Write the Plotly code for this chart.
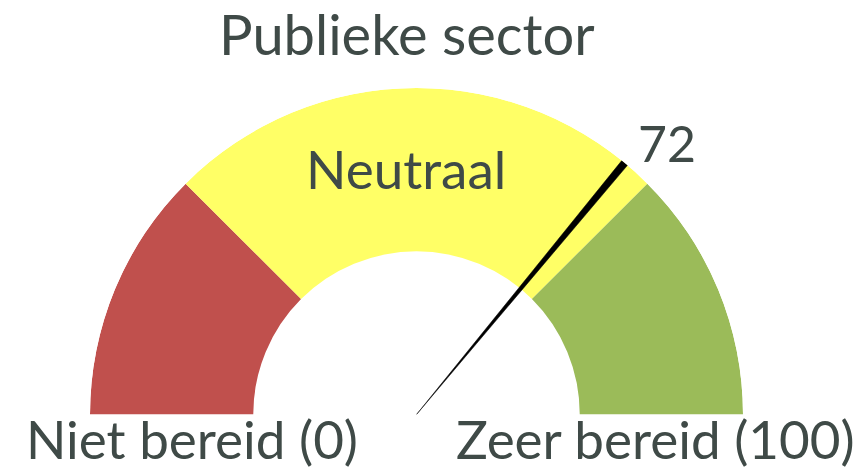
import plotly.graph_objects as go

# Gauge bands (score scale 0..100) and the reading shown by the needle
band_names = ["Niet bereid", "Neutraal", "Zeer bereid"]
band_start = [0, 25, 75]
band_end = [25, 75, 100]
band_colors = ["#C0504D", "#FFFF66", "#9BBB59"]
score = 72

title_text = "Publieke sector"
left_label = "Niet bereid (0)"
right_label = "Zeer bereid (100)"
middle_label = "Neutraal"

DEG_PER_POINT = 180 / 100  # half circle spans the full 0..100 scale
TEXT = "#3F4A47"
FONT = "Lato, Open Sans, sans-serif"

fig = go.Figure()

# coloured ring: bars from r=0.5 to r=1 in the polar subplot
fig.add_trace(go.Barpolar(
    r=[0.5] * len(band_start),
    base=[0.5] * len(band_start),
    theta=[(s + e) / 2 * DEG_PER_POINT for s, e in zip(band_start, band_end)],
    width=[(e - s) * DEG_PER_POINT for s, e in zip(band_start, band_end)],
    marker=dict(color=band_colors, line=dict(width=0)),
    hoverinfo="skip",
    showlegend=False,
))

# tapered needle: a thin wedge from the centre to the outer rim
needle_theta = score * DEG_PER_POINT
half_w = 0.65
fig.add_trace(go.Scatterpolar(
    r=[0, 1, 1, 0],
    theta=[needle_theta, needle_theta - half_w, needle_theta + half_w, needle_theta],
    mode="lines",
    fill="toself",
    fillcolor="black",
    line=dict(color="black", width=0.5),
    hoverinfo="skip",
    showlegend=False,
))

fig.update_layout(
    width=864,
    height=473,
    margin=dict(l=0, r=0, t=0, b=0),
    paper_bgcolor="white",
    plot_bgcolor="white",
    polar=dict(
        domain=dict(x=[90 / 864, 743 / 864], y=[58.5 / 473, 385 / 473]),
        sector=[0, 180],
        bgcolor="rgba(0,0,0,0)",
        radialaxis=dict(range=[0, 1], visible=False, showgrid=False),
        angularaxis=dict(
            rotation=180,
            direction="clockwise",
            visible=False,
            showgrid=False,
        ),
    ),
    font=dict(family=FONT, color=TEXT),
)

def label(text, x, y, size):
    fig.add_annotation(
        text=text, x=x / 864, y=1 - y / 473, xref="paper", yref="paper",
        xanchor="center", yanchor="middle", showarrow=False,
        font=dict(size=size, color=TEXT, family=FONT),
    )

label(title_text, 407, 33, 56)
label(middle_label, 406, 168, 53)
label(str(score), 667, 143, 50)
label(left_label, 192, 438, 53)
label(right_label, 655, 438, 53)

fig.write_html("out.html")
